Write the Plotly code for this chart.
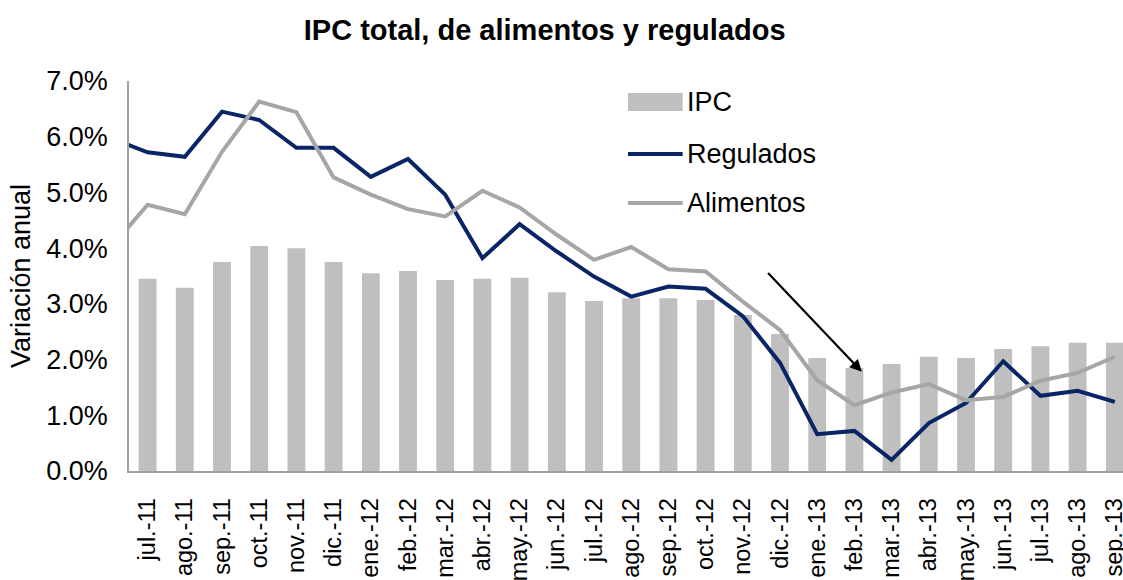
import plotly.graph_objects as go

# ---- data ----
categories = ["jul.-11", "ago.-11", "sep.-11", "oct.-11", "nov.-11", "dic.-11",
              "ene.-12", "feb.-12", "mar.-12", "abr.-12", "may.-12", "jun.-12",
              "jul.-12", "ago.-12", "sep.-12", "oct.-12", "nov.-12", "dic.-12",
              "ene.-13", "feb.-13", "mar.-13", "abr.-13", "may.-13", "jun.-13",
              "jul.-13", "ago.-13", "sep.-13"]
ipc = [3.45, 3.29, 3.75, 4.04, 4.00, 3.75, 3.55, 3.59, 3.43, 3.45, 3.47, 3.21,
       3.05, 3.10, 3.10, 3.07, 2.80, 2.46, 2.03, 1.85, 1.92, 2.05, 2.03, 2.19,
       2.24, 2.30, 2.30]
regulados = [5.72, 5.64, 6.45, 6.30, 5.80, 5.80, 5.28, 5.60, 4.96, 3.82, 4.43, 3.94,
             3.49, 3.13, 3.31, 3.27, 2.78, 1.94, 0.66, 0.72, 0.20, 0.86, 1.22, 1.97,
             1.35, 1.44, 1.24]
alimentos = [4.78, 4.61, 5.73, 6.63, 6.44, 5.27, 4.96, 4.70, 4.57, 5.03, 4.73, 4.24,
             3.79, 4.02, 3.62, 3.58, 3.04, 2.53, 1.63, 1.18, 1.41, 1.56, 1.27, 1.33,
             1.62, 1.76, 2.05]
# previous month (outside visible range, only the line lead-in shows)
lead_month = "jun.-11"
regulados_lead = 5.98
alimentos_lead = 4.00

title = "IPC total, de alimentos y regulados"
y_title = "Variación anual"
legend_names = ["IPC", "Regulados", "Alimentos"]

# ---- style ----
FONT = "Arial, 'Liberation Sans', sans-serif"
BAR_C = "#bfbfbf"
REG_C = "#0a2566"
ALI_C = "#a6a6a6"

all_cats = [lead_month] + categories

fig = go.Figure()
fig.add_trace(go.Bar(x=categories, y=ipc, name=legend_names[0],
                     marker=dict(color=BAR_C, line=dict(width=0)), width=0.48))
fig.add_trace(go.Scatter(x=all_cats, y=[regulados_lead] + regulados, name=legend_names[1],
                         mode="lines", line=dict(color=REG_C, width=4)))
fig.add_trace(go.Scatter(x=all_cats, y=[alimentos_lead] + alimentos, name=legend_names[2],
                         mode="lines", line=dict(color=ALI_C, width=4)))

# manual legend (paper coords)
leg_y = [0.946, 0.813, 0.687]
sw_x0, sw_x1 = 0.502, 0.557
shapes = [
    dict(type="rect", xref="paper", yref="paper", x0=sw_x0, x1=sw_x1,
         y0=leg_y[0] - 0.023, y1=leg_y[0] + 0.023, fillcolor=BAR_C, line=dict(width=0)),
    dict(type="line", xref="paper", yref="paper", x0=sw_x0, x1=sw_x1,
         y0=leg_y[1], y1=leg_y[1], line=dict(color=REG_C, width=4)),
    dict(type="line", xref="paper", yref="paper", x0=sw_x0, x1=sw_x1,
         y0=leg_y[2], y1=leg_y[2], line=dict(color=ALI_C, width=4)),
]
annotations = []
for name, yy in zip(legend_names, leg_y):
    annotations.append(dict(xref="paper", yref="paper", x=sw_x1 + 0.002, y=yy, text=name,
                            showarrow=False, xanchor="left", yanchor="middle",
                            font=dict(family=FONT, size=27, color="#000000")))

# arrow
annotations.append(dict(x=20.2, y=1.78, ax=17.64, ay=3.58, xref="x", yref="y",
                        axref="x", ayref="y", text="", showarrow=True,
                        arrowhead=2, arrowsize=1.1, arrowwidth=2.2, arrowcolor="#000000"))

fig.update_layout(
    width=1123, height=580,
    margin=dict(l=129, r=0, t=81, b=109),
    paper_bgcolor="white", plot_bgcolor="white",
    showlegend=False,
    title=dict(text="<b>" + title + "</b>", x=0.485, xanchor="center", y=0.948,
               yanchor="middle", font=dict(family=FONT, size=29, color="#000000")),
    font=dict(family=FONT, color="#000000"),
    shapes=shapes,
    annotations=annotations,
)
fig.update_xaxes(type="category", categoryorder="array", categoryarray=all_cats,
                 range=[0.5, 27.22], tickangle=-90, showgrid=False,
                 showline=True, linecolor="#a0a0a0", linewidth=1.5,
                 ticks="", automargin=False,
                 tickfont=dict(family=FONT, size=23.5, color="#000000"),
                 ticklabelstandoff=16)
fig.update_yaxes(range=[0, 7], dtick=1, tickformat=".1f", ticksuffix="%",
                 showgrid=False, showline=True, linecolor="#a0a0a0", linewidth=1.5,
                 ticks="", zeroline=False, automargin=False,
                 tickfont=dict(family=FONT, size=27, color="#000000"),
                 ticklabelstandoff=14,
                 title=dict(text=y_title, font=dict(family=FONT, size=27, color="#000000"),
                            standoff=8))

fig.write_html("out.html", config={"displayModeBar": False},
               post_script="document.body.style.margin='0';")
